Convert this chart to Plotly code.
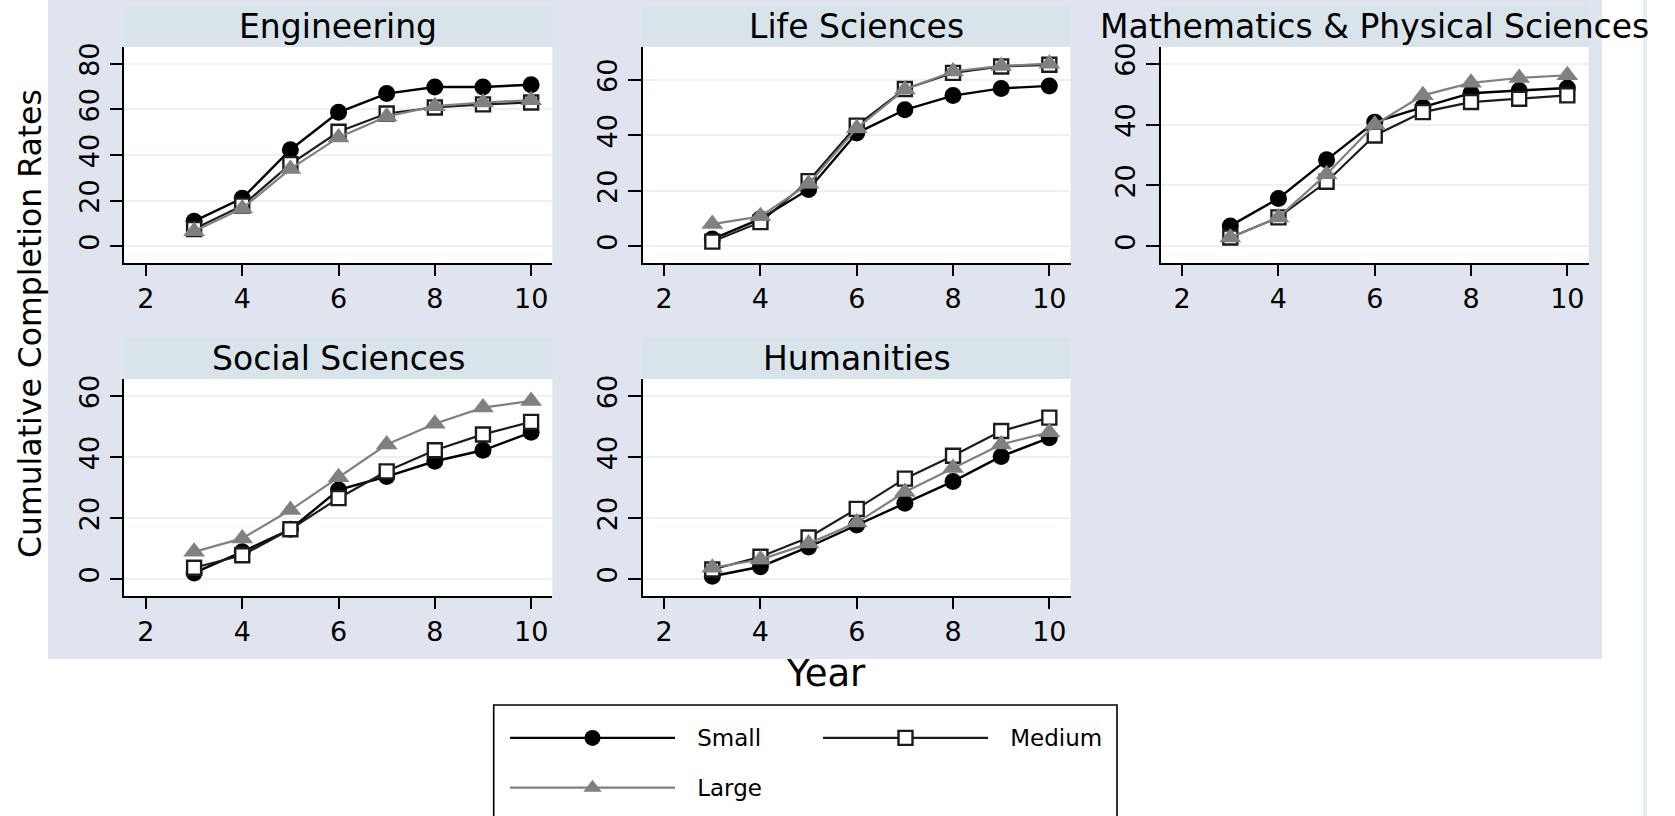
import plotly.graph_objects as go

# ---------------- data ----------------
years = [3, 4, 5, 6, 7, 8, 9, 10]
fields = ["Engineering", "Life Sciences", "Mathematics & Physical Sciences",
          "Social Sciences", "Humanities"]
series_names = ["Small", "Medium", "Large"]

eng_small = [11.0, 21.0, 42.3, 58.7, 66.9, 69.8, 69.8, 70.8]
eng_medium = [7.6, 17.8, 36.0, 50.2, 58.2, 60.8, 62.2, 63.0]
eng_large = [6.6, 16.6, 33.9, 47.7, 56.9, 61.4, 63.0, 64.0]

life_small = [2.6, 9.9, 20.5, 40.8, 49.2, 54.3, 56.9, 57.8]
life_medium = [1.7, 8.7, 23.5, 43.5, 56.7, 62.5, 64.8, 65.4]
life_large = [8.0, 10.8, 22.5, 42.5, 56.5, 63.0, 65.0, 65.8]

math_small = [6.7, 15.7, 28.4, 40.8, 45.7, 50.3, 51.2, 52.0]
math_medium = [2.9, 9.5, 21.2, 36.4, 44.1, 47.4, 48.5, 49.6]
math_large = [2.9, 9.5, 23.7, 40.0, 49.6, 53.7, 55.3, 56.2]

soc_small = [2.0, 8.9, 16.3, 29.2, 33.6, 38.6, 42.2, 48.1]
soc_medium = [3.7, 7.8, 16.3, 26.5, 35.3, 42.2, 47.4, 51.5]
soc_large = [8.9, 13.3, 22.6, 33.4, 44.1, 50.9, 56.2, 58.4]

hum_small = [0.9, 4.0, 10.5, 17.7, 24.8, 32.0, 40.2, 46.3]
hum_medium = [3.1, 7.3, 13.6, 23.0, 32.9, 40.4, 48.5, 52.9]
hum_large = [3.7, 6.4, 11.6, 18.5, 28.5, 36.4, 44.1, 48.1]

x_ticks = [2, 4, 6, 8, 10]
y_ticks_eng = [0, 20, 40, 60, 80]
y_ticks_other = [0, 20, 40, 60]

panel_data = [
    (eng_small, eng_medium, eng_large, y_ticks_eng),
    (life_small, life_medium, life_large, y_ticks_other),
    (math_small, math_medium, math_large, y_ticks_other),
    (soc_small, soc_medium, soc_large, y_ticks_other),
    (hum_small, hum_medium, hum_large, y_ticks_other),
]

# ---------------- layout geometry (pixels) ----------------
W, H = 1675, 816
col_px = [(124.3, 552.3), (642.5, 1070.5), (1160.5, 1588.5)]
row_px = [(46.7, 263.3), (379.0, 596.0)]  # top, bottom
panel_pos = [(0, 0), (0, 1), (0, 2), (1, 0), (1, 1)]
strip_h = 41.0
pad_px = 17.0

FONT = "DejaVu Sans"
BG = "#DFE4EE"
STRIP = "#D8E4EA"
GRID = "#EAF2F3"

styles = {
    "Small": dict(line=dict(color="#000000", width=2.4),
                  marker=dict(symbol="circle", size=17, color="#000000")),
    "Medium": dict(line=dict(color="#1c1c1c", width=2.2),
                   marker=dict(symbol="square", size=14, color="#ffffff",
                               line=dict(color="#1c1c1c", width=2.4))),
    "Large": dict(line=dict(color="#808080", width=2.2),
                  marker=dict(symbol="triangle-up", size=19, color="#808080")),
}
groups = {"Small": "g1", "Large": "g1", "Medium": "g2"}


def legend_label(txt):
    return ('<span style="font-size:18px">&nbsp;&nbsp;&nbsp;</span>'
            '<span style="font-size:23px;baseline-shift:6px">' + txt + '</span>')


fig = go.Figure()
shapes = [dict(type="rect", xref="paper", yref="paper",
               x0=48 / W, x1=1602 / W, y0=1 - 659 / H, y1=1,
               fillcolor=BG, line=dict(width=0), layer="below")]
annotations = []

for i, (field, (s, m, l, yt)) in enumerate(zip(fields, panel_data)):
    r, c = panel_pos[i]
    ax = "" if i == 0 else str(i + 1)
    xa, ya = "x" + ax, "y" + ax
    top = max(max(yt), max(s), max(m), max(l))
    plot_h = row_px[r][1] - row_px[r][0]
    pad = top * pad_px / (plot_h - 2 * pad_px)
    for name, vals in zip(series_names, (s, m, l)):
        fig.add_trace(go.Scatter(
            x=years, y=vals, mode="lines+markers", name=legend_label(name),
            legendgroup=groups[name], showlegend=(i == 0),
            xaxis=xa, yaxis=ya, **styles[name]))
    x0, x1 = col_px[c]
    y0, y1 = row_px[r]
    fig.layout["xaxis" + ax] = dict(
        domain=[x0 / W, x1 / W], anchor=ya, range=[1.55, 10.44],
        tickvals=x_ticks, ticktext=[str(v) for v in x_ticks],
        showgrid=False, zeroline=False, showline=True, linecolor="#000",
        linewidth=1.5, ticks="outside", ticklen=11, tickwidth=1.5,
        tickcolor="#000", tickfont=dict(family=FONT, size=27, color="#000"),
        fixedrange=True)
    fig.layout["yaxis" + ax] = dict(
        domain=[1 - y1 / H, 1 - y0 / H], anchor=xa, range=[-pad, top + pad],
        tickvals=yt, ticktext=[str(v) for v in yt], tickangle=-90,
        showgrid=True, gridcolor=GRID, gridwidth=2, zeroline=False,
        showline=True, linecolor="#000", linewidth=1.5, ticks="outside",
        ticklen=13, tickwidth=1.5, tickcolor="#000",
        tickfont=dict(family=FONT, size=27, color="#000"), fixedrange=True)
    # white plot area
    shapes.append(dict(type="rect", xref=xa + " domain", yref=ya + " domain",
                       x0=0, x1=1, y0=0, y1=1, fillcolor="#ffffff",
                       line=dict(width=0), layer="below"))
    # strip
    sh = strip_h / plot_h
    shapes.append(dict(type="rect", xref=xa + " domain", yref=ya + " domain",
                       x0=0, x1=1, y0=1, y1=1 + sh, fillcolor=STRIP,
                       line=dict(width=0), layer="below"))
    annotations.append(dict(text=field, xref=xa + " domain", yref=ya + " domain",
                            x=0.5, y=1 + sh / 2, xanchor="center", yanchor="middle",
                            showarrow=False,
                            font=dict(family=FONT, size=33, color="#000")))

# faint vertical line at right
shapes.append(dict(type="line", xref="paper", yref="paper",
                   x0=1645 / W, x1=1645 / W, y0=0, y1=1,
                   line=dict(color="#E6EEF0", width=4), layer="above"))
# legend frame
shapes.append(dict(type="rect", xref="paper", yref="paper",
                   x0=493.7 / W, x1=1117 / W, y0=1 - 840 / H, y1=1 - 705 / H,
                   fillcolor="rgba(0,0,0,0)", line=dict(color="#000", width=1.6),
                   layer="above"))

annotations.append(dict(text="Cumulative Completion Rates", xref="paper", yref="paper",
                        x=30 / W, y=1 - 324 / H, xanchor="center", yanchor="middle",
                        textangle=-90, showarrow=False,
                        font=dict(family=FONT, size=31.5, color="#000")))
annotations.append(dict(text="Year", xref="paper", yref="paper",
                        x=826 / W, y=1 - 673 / H, xanchor="center", yanchor="middle",
                        showarrow=False,
                        font=dict(family=FONT, size=37, color="#000")))

fig.update_layout(
    width=W, height=H,
    margin=dict(l=0, r=0, t=0, b=0, pad=0, autoexpand=False),
    paper_bgcolor="#ffffff", plot_bgcolor="#ffffff",
    shapes=shapes, annotations=annotations,
    showlegend=True,
    legend=dict(orientation="h", traceorder="grouped", x=505 / W, y=1 - 708 / H,
                xanchor="left", yanchor="top", bgcolor="rgba(0,0,0,0)",
                borderwidth=0,
                font=dict(family=FONT, size=36, color="#000"),
                itemwidth=165, entrywidth=133, entrywidthmode="pixels",
                itemclick=False, itemdoubleclick=False),
)

fig.write_html("out.html", config={"displayModeBar": False},
               post_script="document.body.style.margin='0';document.body.style.overflow='hidden';")
